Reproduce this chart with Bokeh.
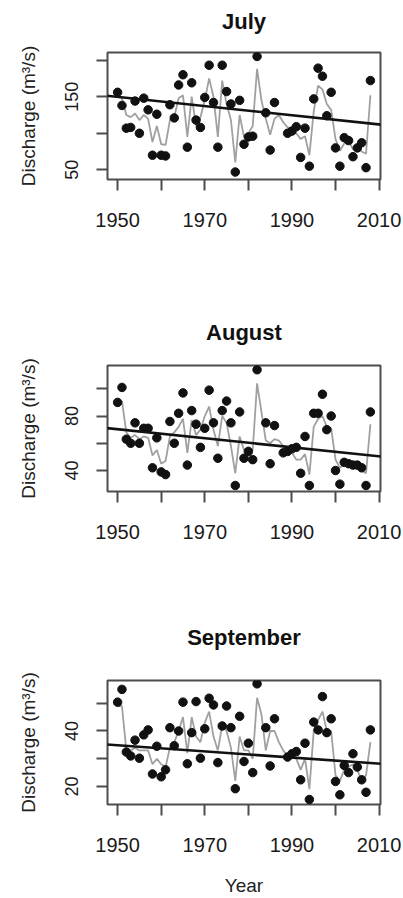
import numpy as np
from bokeh.plotting import figure
from bokeh.models import Range1d, FixedTicker, Slope, LinearAxis
from bokeh.layouts import column
from bokeh.embed import file_html
from bokeh.resources import INLINE

# ---------------- data ----------------
titles = ["July", "August", "September"]

jul_years = [1950, 1951, 1952, 1953, 1954, 1955, 1956, 1957, 1958, 1959, 1960, 1961,
             1962, 1963, 1964, 1965, 1966, 1967, 1968, 1969, 1970, 1971, 1972, 1973,
             1974, 1975, 1976, 1977, 1978, 1979, 1980, 1981, 1982, 1984, 1985, 1986,
             1989, 1990, 1991, 1992, 1993, 1994, 1995, 1996, 1997, 1998, 1999, 2000,
             2001, 2002, 2003, 2004, 2005, 2006, 2007, 2008]
jul_obs = [156, 138, 107, 108, 144, 100, 148, 132, 70, 126, 70, 69,
           139, 121, 166, 180, 81, 169, 118, 108, 149, 193, 142, 81,
           193, 157, 140, 47, 145, 85, 95, 96, 205, 128, 77, 142,
           100, 103, 109, 67, 107, 55, 147, 189, 178, 124, 156, 80,
           55, 94, 90, 68, 80, 87, 53, 172]

aug_years = [1950, 1951, 1952, 1953, 1954, 1955, 1956, 1957, 1958, 1959, 1960, 1961,
             1962, 1963, 1964, 1965, 1966, 1967, 1968, 1969, 1970, 1971, 1972, 1973,
             1974, 1975, 1976, 1977, 1978, 1979, 1980, 1981, 1982, 1984, 1985, 1986,
             1988, 1989, 1990, 1991, 1992, 1993, 1994, 1995, 1996, 1997, 1998, 1999,
             2000, 2001, 2002, 2003, 2004, 2005, 2006, 2007, 2008]
aug_obs = [90, 101, 63, 60, 75, 60, 71, 71, 42, 64, 39, 37,
           76, 60, 82, 97, 44, 84, 74, 57, 71, 99, 75, 49,
           84, 91, 75, 29, 83, 49, 54, 48, 114, 75, 45, 73,
           53, 54, 56, 57, 38, 65, 29, 82, 82, 96, 70, 80,
           40, 30, 46, 45, 44, 44, 42, 29, 83]

sep_years = [1950, 1951, 1952, 1953, 1954, 1955, 1956, 1957, 1958, 1959, 1960, 1961,
             1962, 1963, 1964, 1965, 1966, 1967, 1968, 1969, 1970, 1971, 1972, 1973,
             1974, 1975, 1976, 1977, 1978, 1979, 1980, 1981, 1982, 1984, 1985, 1986,
             1989, 1990, 1991, 1992, 1993, 1994, 1995, 1996, 1997, 1998, 1999, 2000,
             2001, 2002, 2003, 2004, 2005, 2006, 2007, 2008]
sep_obs = [50.4, 55, 32.4, 31, 36.7, 30.2, 38.6, 40.4, 24.5, 34.5, 23.5, 26,
           41.2, 34.7, 40, 50.4, 28.2, 39.4, 50.6, 30.2, 40.8, 51.8, 49.4, 28.6,
           41.8, 49, 41.2, 19.2, 45.3, 29, 35.6, 25, 57, 41.2, 27.4, 44.4,
           30.6, 31.8, 32.6, 22.4, 35.6, 15.3, 43.2, 40.4, 52.4, 39.4, 44.4, 21.8,
           17, 27.6, 25, 31.8, 27, 22.4, 17.9, 40.4]

grey_years = list(range(1950, 2009))
jul_grey = [150, 148, 125, 122, 127, 118, 125, 120, 88, 110, 85, 84, 118, 122, 148, 152,
            95, 150, 110, 122, 145, 175, 150, 95, 172, 140, 118, 60, 125, 95, 100, 110,
            188, 145, 120, 98, 120, 125, 115, 108, 106, 100, 92, 96, 70, 130, 165, 160,
            140, 132, 92, 76, 86, 90, 78, 82, 75, 72, 152]
aug_grey = [88, 91, 68, 64, 66, 63, 65, 64, 51, 55, 45, 47, 65, 68, 72, 78,
            53, 77, 66, 70, 80, 87, 70, 58, 80, 75, 58, 38, 65, 55, 57, 55,
            104, 83, 62, 60, 63, 62, 58, 55, 53, 48, 48, 52, 37, 72, 78, 80,
            72, 71, 48, 42, 45, 45, 44, 42, 40, 38, 74]
sep_grey = [49, 49, 33, 33, 34, 33, 33, 33, 28, 30, 28, 27, 34, 36, 40, 45,
            32, 45, 38, 36, 43, 47, 38, 33, 42, 40, 34, 22, 38, 33, 33, 30,
            52, 46, 33, 40, 40, 36, 33, 31, 31, 30, 26, 30, 19, 40, 44, 47,
            40, 40, 24, 22, 26, 27, 28, 26, 22, 24, 36]

trend_years = [1950, 2008]
jul_trend = [149.8, 113.3]
aug_trend = [70.3, 51.1]
sep_trend = [34.85, 28.45]

x_ticks = [1950, 1960, 1970, 1980, 1990, 2000, 2010]
x_labels = {1950: "1950", 1960: "", 1970: "1970", 1980: "", 1990: "1990", 2000: "", 2010: "2010"}
jul_yticks = [50, 100, 150, 200]
jul_ylabels = {50: "50", 100: "", 150: "150", 200: ""}
aug_yticks = [40, 60, 80, 100]
aug_ylabels = {40: "40", 60: "", 80: "80", 100: ""}
sep_yticks = [20, 30, 40, 50]
sep_ylabels = {20: "20", 30: "", 40: "40", 50: ""}

FONT = "Liberation Sans"
FRAME = "#4d4d4d"
BL, BR = 107, 23


def panel(title, yrs, obs, gvals, trend, yr, yticks, ylabels, height, top, bottom,
          title_gap, xlabel=None):
    p = figure(width=403, height=height,
               x_range=Range1d(1947.68, 2010.32), y_range=Range1d(*yr),
               output_backend="svg", toolbar_location=None,
               min_border_left=BL, min_border_right=BR,
               min_border_top=top, min_border_bottom=bottom)
    p.grid.visible = False
    p.outline_line_color = FRAME
    p.outline_line_width = 2
    p.background_fill_color = "white"
    p.border_fill_color = "white"

    p.line(grey_years, gvals, line_color="#a0a0a0", line_width=1.8)
    g = (trend[1] - trend[0]) / (trend_years[1] - trend_years[0])
    b = trend[0] - g * trend_years[0]
    p.add_layout(Slope(gradient=g, y_intercept=b, line_color="#111111", line_width=2.6))
    p.scatter(yrs, obs, size=8.5, color="#111111", line_color="#111111")

    xa = p.below[0]
    xa.ticker = FixedTicker(ticks=x_ticks)
    xa.major_label_overrides = x_labels
    ya = p.left[0]
    ya.ticker = FixedTicker(ticks=yticks)
    ya.major_label_overrides = ylabels
    ya.major_label_orientation = "vertical"
    ya.axis_label = "Discharge (m³/s)"
    ya.axis_label_standoff = 24
    ya.axis_label_text_font = FONT
    ya.axis_label_text_font_size = "19px"
    ya.axis_label_text_font_style = "normal"
    ya.axis_label_text_color = "#222222"
    for ax in (xa, ya):
        ax.axis_line_color = None
        ax.major_tick_line_color = FRAME
        ax.major_tick_line_width = 2
        ax.major_tick_in = 0
        ax.major_tick_out = 11
        ax.minor_tick_line_color = None
        ax.major_label_text_font = FONT
        ax.major_label_text_color = "#1a1a1a"
    xa.major_label_text_font_size = "20px"
    xa.major_label_standoff = 22
    ya.major_label_text_font_size = "18px"
    ya.major_label_standoff = 18
    if xlabel:
        xa.axis_label = xlabel
        xa.axis_label_text_font = FONT
        xa.axis_label_text_font_size = "19px"
        xa.axis_label_text_font_style = "normal"
        xa.axis_label_text_color = "#222222"
        xa.axis_label_standoff = 20

    # panel title drawn as the label of an empty axis above the frame
    ta = LinearAxis(ticker=FixedTicker(ticks=[]), axis_label=title,
                    axis_line_color=None, major_tick_line_color=None,
                    minor_tick_line_color=None, major_tick_out=0, major_tick_in=0,
                    major_label_standoff=0, axis_label_standoff=title_gap,
                    axis_label_text_font=FONT, axis_label_text_font_size="22px",
                    axis_label_text_font_style="bold", axis_label_text_color="#111111")
    p.add_layout(ta, "above")
    return p


p1 = panel(titles[0], jul_years, jul_obs, jul_grey, jul_trend, (36.8, 210.4),
           jul_yticks, jul_ylabels, 300, 52, 121, 19)
p2 = panel(titles[1], aug_years, aug_obs, aug_grey, aug_trend, (24.6, 117.1),
           aug_yticks, aug_ylabels, 300, 65, 109, 21)
p3 = panel(titles[2], sep_years, sep_obs, sep_grey, sep_trend, (13.5, 58.2),
           sep_yticks, sep_ylabels, 298, 80, 91, 31, xlabel="Year")

layout = column(p1, p2, p3, spacing=0)
open("out.html", "w").write(file_html(layout, INLINE))
